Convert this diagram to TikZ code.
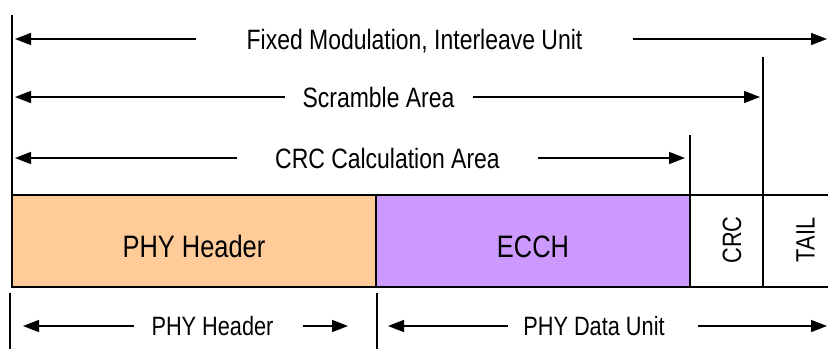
\documentclass[tikz,border=0pt]{standalone}
\usepackage{fontspec}
\setmainfont[FakeStretch=0.82]{Liberation Sans}
\usepackage{xcolor}
\usepackage{tikz}
\usetikzlibrary{positioning, arrows.meta, calc}
\definecolor{hdrorange}{HTML}{FFCC99}
\definecolor{ecchpurple}{HTML}{CC99FF}

\tikzset{
  cell/.style={draw, line width=1.6pt, minimum height=92pt, inner sep=0pt, outer sep=0pt,
    anchor=north west, font=\fontsize{31}{31}\selectfont, text height=32pt, text depth=0pt},
  spanlab/.style={font=\fontsize{28}{28}\selectfont, inner sep=0pt, text height=20pt, text depth=0pt},
  sublab/.style={font=\fontsize{26.5}{26.5}\selectfont, inner sep=0pt, text height=19pt, text depth=0pt},
  dimarrow/.style={line width=1.6pt, -{Triangle[length=16pt, width=12pt]}},
  tick/.style={line width=1.6pt}
}

\begin{document}
\begin{tikzpicture}[x=1pt, y=-1pt]
  \useasboundingbox (0,0) rectangle (828,349);

  % frame
  \node[cell, fill=hdrorange, minimum width=364pt] (hdr) at (12,195) {PHY Header};
  \node[cell, fill=ecchpurple, minimum width=314pt] (ecch) at (hdr.north east) {ECCH};
  \node[cell, minimum width=73pt] (crc) at (ecch.north east) {};
  \coordinate (tailNE) at (828,195);
  \coordinate (tailSE) at (828,287);
  \draw[tick] (crc.north east) -- (tailNE) (crc.south east) -- (tailSE);
  \node[sublab, rotate=90] (crclab) at (731.5,240) {CRC};
  \node[sublab, rotate=90] (taillab) at (805,240) {TAIL};

  % area limits
  \coordinate (fixedTop) at (12,15);
  \coordinate (scrTop) at (763,57);
  \coordinate (crcTop) at (690,135);
  \draw[tick] (fixedTop) -- (hdr.north west);
  \draw[tick] (scrTop) -- (crc.south east);
  \draw[tick] (crcTop) -- (crc.south west);

  % spans above the frame
  \node[spanlab] (fixed) at (414.5,39) {Fixed Modulation, Interleave Unit};
  \coordinate (fixedL) at (15,39);
  \coordinate (fixedR) at (827,39);
  \draw[dimarrow] ([xshift=-50pt]fixed.west) -- (fixedL);
  \draw[dimarrow] ([xshift=50pt]fixed.east) -- (fixedR);

  \node[spanlab] (scramble) at (378.5,97) {Scramble Area};
  \coordinate (scrambleL) at (15,97);
  \coordinate (scrambleR) at (760,97);
  \draw[dimarrow] ([xshift=-17pt]scramble.west) -- (scrambleL);
  \draw[dimarrow] ([xshift=18pt]scramble.east) -- (scrambleR);

  \node[spanlab] (crcarea) at (387.5,158) {CRC Calculation Area};
  \coordinate (crcareaL) at (15,158);
  \coordinate (crcareaR) at (685,158);
  \draw[dimarrow] ([xshift=-38pt]crcarea.west) -- (crcareaL);
  \draw[dimarrow] ([xshift=38pt]crcarea.east) -- (crcareaR);

  % spans below the frame
  \coordinate (hdrTick) at (10,293);
  \coordinate (hdrTickEnd) at (10,349);
  \coordinate (dataTick) at (377,293);
  \coordinate (dataTickEnd) at (377,349);
  \draw[tick, line width=1.3pt] (hdrTick) -- (hdrTickEnd) (dataTick) -- (dataTickEnd);

  \node[sublab] (hdrspan) at (212.5,326) {PHY Header};
  \coordinate (hdrspanL) at (23,326);
  \coordinate (hdrspanR) at (348,326);
  \draw[dimarrow] ([xshift=-17pt]hdrspan.west) -- (hdrspanL);
  \draw[dimarrow] ([xshift=29pt]hdrspan.east) -- (hdrspanR);

  \node[sublab] (dataspan) at (594,326) {PHY Data Unit};
  \coordinate (dataspanL) at (388,326);
  \coordinate (dataspanR) at (827,326);
  \draw[dimarrow] ([xshift=-15pt]dataspan.west) -- (dataspanL);
  \draw[dimarrow] ([xshift=33pt]dataspan.east) -- (dataspanR);
\end{tikzpicture}
\end{document}
